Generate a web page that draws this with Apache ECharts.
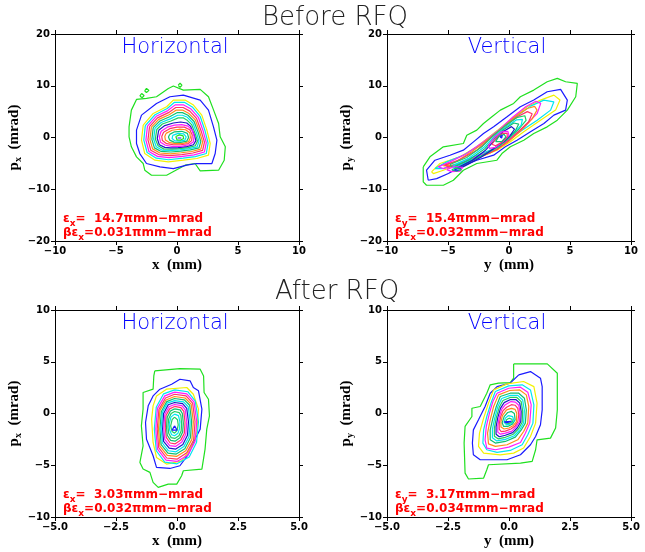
<!DOCTYPE html>
<html>
<head>
<meta charset="utf-8">
<script src="https://cdn.jsdelivr.net/npm/echarts@6/dist/echarts.min.js"></script>
<style>
  html, body { margin: 0; padding: 0; background: #fff; }
  #chart { width: 645px; height: 552px; }
</style>
</head>
<body>
<div id="chart"></div>
<script>
// tick values
const beforeXTicks = [-10, 10, 5];
const beforeYTicks = [-20, 20, 10];
const afterXTicks = [-5, 5, 2.5];
const afterYTicks = [-10, 10, 5];

const panelLabels = ["Horizontal", "Vertical", "Horizontal", "Vertical"];
const emitLabels = [["x", "14.7"], ["y", "15.4"], ["x", "3.03"], ["y", "3.17"]];
const betaEmit = ["0.031", "0.032", "0.032", "0.034"];

// contour lines, outermost first
const beforeHContours = [
  [[-3.93,2.06],[-3.74,5.29],[-3.32,7.35],[-2.5,7.55],[-1.68,7.87],[-0.71,9.48],[-0.3,9.94],[0.52,9.16],[1.9,9.29],[2.58,7.87],[3.0,5.29],[3.41,2.71],[3.54,0.13],[3.96,-1.8],[3.87,-4.39],[3.41,-6.32],[1.9,-6.45],[1.48,-5.03],[0.66,-5.35],[-0.85,-7.29],[-2.09,-7.29],[-2.64,-6.32],[-2.77,-5.03],[-3.32,-3.74],[-3.74,-1.8],[-3.93,0.13]],
  [[-2.91,4.32],[-1.68,6.58],[-0.58,7.87],[0.52,8.19],[1.9,7.23],[2.58,5.29],[2.99,2.06],[3.27,-0.52],[3.13,-3.1],[2.86,-5.03],[1.62,-5.03],[0.8,-5.35],[-0.3,-6.0],[-1.4,-5.68],[-2.5,-5.03],[-3.05,-3.1],[-3.32,-1.16],[-3.32,1.42]],
  [[-2.77,2.39],[-1.95,4.65],[-0.85,5.94],[-0.3,7.23],[0.66,7.23],[1.35,6.26],[2.03,4.32],[2.45,1.42],[2.72,-1.16],[2.58,-3.42],[1.62,-4.06],[0.52,-4.39],[-0.71,-4.71],[-1.81,-4.39],[-2.64,-3.1],[-2.91,-0.52]],
  [[-2.6,2.3],[-1.8,4.4],[-0.8,5.6],[-0.2,6.8],[0.6,6.8],[1.25,5.9],[1.9,4.1],[2.3,1.3],[2.55,-1.1],[2.4,-3.1],[1.5,-3.7],[0.5,-4.0],[-0.7,-4.3],[-1.7,-4.0],[-2.45,-2.9],[-2.72,-0.5]],
  [[-2.42,2.2],[-1.7,4.1],[-0.75,5.2],[-0.15,6.3],[0.55,6.3],[1.15,5.5],[1.75,3.9],[2.15,1.2],[2.4,-1.0],[2.25,-2.8],[1.4,-3.35],[0.45,-3.65],[-0.65,-3.9],[-1.6,-3.65],[-2.3,-2.7],[-2.55,-0.5]],
  [[-2.25,2.1],[-1.6,3.8],[-0.7,4.8],[-0.1,5.8],[0.5,5.8],[1.05,5.1],[1.6,3.7],[2.0,1.1],[2.25,-0.9],[2.1,-2.5],[1.3,-3.0],[0.4,-3.3],[-0.6,-3.5],[-1.5,-3.3],[-2.15,-2.45],[-2.38,-0.45]],
  [[-2.1,2.0],[-1.5,3.5],[-0.65,4.4],[-0.05,5.3],[0.45,5.3],[0.95,4.7],[1.5,3.4],[1.87,1.0],[2.1,-0.85],[1.95,-2.25],[1.2,-2.7],[0.35,-2.95],[-0.55,-3.15],[-1.4,-3.0],[-2.0,-2.2],[-2.22,-0.4]],
  [[-1.95,1.9],[-1.4,3.2],[-0.6,4.0],[0.0,4.8],[0.45,4.8],[0.9,4.3],[1.4,3.1],[1.75,0.9],[1.95,-0.8],[1.8,-2.0],[1.1,-2.4],[0.3,-2.65],[-0.5,-2.8],[-1.3,-2.7],[-1.85,-2.0],[-2.06,-0.35]],
  [[-1.8,1.8],[-1.3,2.9],[-0.55,3.6],[0.05,4.3],[0.45,4.3],[0.85,3.9],[1.3,2.8],[1.62,0.8],[1.8,-0.75],[1.65,-1.8],[1.0,-2.15],[0.25,-2.4],[-0.45,-2.5],[-1.2,-2.45],[-1.7,-1.8],[-1.92,-0.3]],
  [[-1.65,1.6],[-1.2,2.6],[-0.5,3.2],[0.1,3.8],[0.5,3.8],[0.8,3.4],[1.2,2.5],[1.5,0.7],[1.68,-0.7],[1.5,-1.6],[0.9,-1.95],[0.2,-2.15],[-0.4,-2.25],[-1.1,-2.2],[-1.55,-1.6],[-1.78,-0.3]],
  [[-1.5,1.4],[-1.0,2.3],[-0.3,2.8],[0.3,3.0],[0.8,2.8],[1.1,2.2],[1.4,0.6],[1.55,-0.6],[1.35,-1.4],[0.8,-1.75],[0.1,-1.95],[-0.5,-2.0],[-1.0,-1.9],[-1.45,-1.4],[-1.62,-0.2]],
  [[-1.3,1.2],[-0.8,2.0],[-0.2,2.4],[0.4,2.5],[0.9,2.2],[1.25,1.4],[1.4,0.3],[1.35,-0.8],[1.0,-1.4],[0.3,-1.7],[-0.4,-1.7],[-0.95,-1.5],[-1.35,-0.9],[-1.45,0.1]],
  [[-1.1,1.0],[-0.6,1.7],[0.0,2.0],[0.6,2.0],[1.05,1.5],[1.25,0.5],[1.2,-0.6],[0.9,-1.2],[0.3,-1.4],[-0.3,-1.4],[-0.85,-1.2],[-1.2,-0.6],[-1.25,0.2]],
  [[-0.9,0.8],[-0.4,1.4],[0.2,1.6],[0.7,1.5],[1.05,0.9],[1.1,0.0],[0.95,-0.8],[0.5,-1.15],[-0.1,-1.2],[-0.6,-1.0],[-0.95,-0.5],[-1.0,0.2]],
  [[-0.6,0.6],[-0.2,1.1],[0.4,1.2],[0.85,0.8],[0.95,0.0],[0.8,-0.7],[0.3,-0.95],[-0.25,-0.9],[-0.6,-0.5],[-0.7,0.1]],
  [[-0.35,0.4],[0.1,0.8],[0.55,0.7],[0.75,0.1],[0.65,-0.5],[0.25,-0.7],[-0.2,-0.6],[-0.4,-0.2]],
  [[-0.1,0.2],[0.2,0.5],[0.5,0.3],[0.55,-0.2],[0.3,-0.5],[0.0,-0.45],[-0.15,-0.1]],
  [[0.05,-0.1],[0.2,0.2],[0.35,-0.1],[0.2,-0.35]],
  [[-3.05,8.0],[-2.9,8.5],[-2.7,8.1],[-2.85,7.7]],
  [[-2.65,9.0],[-2.5,9.5],[-2.3,9.1],[-2.5,8.7]],
  [[0.1,10.1],[0.25,10.5],[0.4,10.1],[0.25,9.7]]
];
const beforeHColors = ["#1fe01f","#1a1aff","#f2f200","#00e6f0","#ff1aff","#ff3366","#ff8c1a","#10c070","#00e6f0","#20d060","#1a1ac0","#ff1aff","#ff3366","#ff8c1a","#10c070","#00e6f0","#1fe01f","#1a1aff","#1fe01f","#1fe01f","#1fe01f"];

const beforeVContours = [
  [[-7.03,-5.68],[-6.48,-3.74],[-5.38,-1.8],[-3.74,-1.16],[-3.46,0.45],[-2.64,1.42],[-2.09,2.71],[-1.4,4.0],[-0.71,5.29],[0.38,6.58],[0.93,7.87],[2.03,9.16],[3.13,10.77],[3.96,11.42],[4.64,10.77],[5.6,10.45],[5.47,7.87],[4.78,5.29],[3.96,3.35],[3.13,2.06],[2.03,0.77],[1.21,-0.52],[0.11,-1.8],[-0.58,-3.1],[-0.99,-4.39],[-2.64,-5.03],[-3.74,-6.32],[-4.56,-8.26],[-5.38,-9.23],[-6.76,-9.23],[-7.03,-8.58]],
  [[-6.62,-8.26],[-6.76,-6.32],[-6.07,-4.39],[-4.84,-3.42],[-3.74,-2.45],[-2.91,-0.84],[-2.09,0.77],[-1.26,2.06],[-0.16,4.0],[0.93,5.94],[2.03,7.23],[3.13,8.84],[4.23,9.29],[4.78,7.23],[4.64,5.29],[3.68,4.32],[2.86,2.71],[1.76,1.1],[0.66,-0.52],[-0.3,-1.8],[-1.26,-3.42],[-2.64,-4.39],[-4.01,-5.68],[-4.97,-6.97],[-5.93,-7.94]],
  [[-6.35,-6.65],[-5.66,-5.03],[-4.01,-3.74],[-2.64,-1.8],[-1.26,0.77],[0.11,3.35],[1.48,5.94],[2.58,7.23],[3.68,8.19],[4.18,7.23],[3.82,5.29],[2.58,3.35],[1.21,1.1],[0.11,-0.84],[-0.99,-2.45],[-2.36,-3.74],[-4.01,-5.03],[-5.38,-6.32],[-6.2,-6.97]],
  [[-6.07,-6.0],[-5.11,-4.71],[-3.74,-3.42],[-2.36,-1.48],[-0.99,1.1],[0.38,3.68],[1.76,6.06],[2.86,7.23],[3.68,6.9],[3.41,5.29],[2.31,3.35],[1.07,1.42],[-0.16,-0.52],[-1.54,-2.45],[-2.91,-3.74],[-4.29,-5.03],[-5.38,-6.0]],
  [[-5.8,-5.68],[-4.84,-4.71],[-3.46,-3.1],[-2.09,-0.84],[-0.85,1.42],[0.3,3.9],[1.4,6.0],[2.2,7.0],[2.6,6.6],[2.3,4.6],[1.2,2.0],[-0.1,-0.6],[-1.68,-2.77],[-3.05,-4.06],[-4.42,-5.35],[-5.38,-6.0]],
  [[-5.38,-5.48],[-4.29,-4.58],[-3.05,-2.77],[-1.81,-0.52],[-0.58,1.74],[0.5,4.0],[1.5,5.6],[2.1,6.0],[2.3,5.3],[1.9,3.6],[0.93,1.2],[-0.16,-1.03],[-1.54,-2.97],[-2.91,-4.26],[-4.29,-5.35]],
  [[-5.25,-5.35],[-4.01,-4.26],[-2.64,-2.45],[-1.54,-0.19],[-0.44,1.9],[0.6,3.9],[1.5,5.0],[1.9,4.6],[1.6,3.0],[0.8,1.2],[0.0,-0.5],[-0.99,-2.32],[-2.36,-3.74],[-3.74,-4.9],[-4.97,-5.68]],
  [[-4.84,-5.22],[-3.46,-3.87],[-2.22,-1.8],[-1.26,0.45],[-0.3,2.3],[0.7,3.9],[1.3,4.2],[1.4,3.3],[0.8,1.6],[0.0,-0.1],[-0.85,-1.8],[-2.09,-3.42],[-3.46,-4.58],[-4.7,-5.68]],
  [[-4.6,-5.5],[-3.3,-4.0],[-2.1,-2.0],[-1.2,0.2],[-0.3,2.0],[0.6,3.4],[1.1,3.5],[1.0,2.4],[0.4,0.9],[-0.2,-0.4],[-1.0,-1.9],[-2.2,-3.5],[-3.4,-4.7],[-4.5,-5.9]],
  [[-4.4,-5.6],[-3.2,-4.2],[-2.0,-2.2],[-1.2,-0.2],[-0.4,1.6],[0.4,2.8],[0.8,2.6],[0.5,1.2],[-0.2,-0.5],[-1.1,-2.0],[-2.3,-3.6],[-3.4,-4.9],[-4.3,-6.0]],
  [[-4.2,-5.8],[-3.0,-4.4],[-1.9,-2.4],[-1.2,-0.6],[-0.5,1.1],[0.2,2.1],[0.45,1.6],[0.1,0.4],[-0.4,-0.7],[-1.2,-2.1],[-2.3,-3.8],[-3.3,-5.1],[-4.1,-6.1]],
  [[-1.7,-1.6],[-1.2,0.0],[-0.6,1.1],[-0.1,1.2],[0.0,0.4],[-0.5,-0.8],[-1.1,-1.9],[-1.6,-2.1]],
  [[-1.4,-1.3],[-1.0,0.0],[-0.5,0.8],[-0.15,0.8],[-0.15,0.1],[-0.6,-0.9],[-1.1,-1.6]],
  [[-1.1,-0.8],[-0.8,0.3],[-0.4,0.6],[-0.25,0.1],[-0.6,-0.8]],
  [[-0.75,0.1],[-0.55,0.45],[-0.4,0.2],[-0.6,-0.1]],
  [[-5.1,-6.2],[-4.5,-5.6],[-3.8,-5.8],[-4.0,-6.5],[-4.7,-6.6]],
  [[-4.7,-6.2],[-4.3,-5.9],[-3.9,-6.2],[-4.3,-6.5]],
  [[-4.45,-6.3],[-4.3,-6.1],[-4.15,-6.3],[-4.3,-6.45]]
];
const beforeVColors = ["#1fe01f","#1a1aff","#f2f200","#00e6f0","#ff1aff","#ff8c1a","#ff3366","#20d060","#00e6f0","#10c070","#1a1ac0","#ff1aff","#ff3366","#10c070","#1a1aff","#ff1aff","#10c070","#1a1aff"];

const afterHContours = [
  [[-0.91,4.12],[0.12,4.34],[0.95,4.28],[1.09,3.63],[1.11,2.03],[1.29,1.38],[1.33,-0.23],[1.22,-1.51],[1.15,-3.44],[1.02,-5.37],[0.26,-5.53],[0.19,-6.01],[-0.01,-6.82],[-0.36,-6.82],[-0.77,-7.14],[-0.98,-6.66],[-1.11,-5.69],[-1.39,-5.37],[-1.52,-4.73],[-1.39,-3.12],[-1.46,-1.19],[-1.39,0.42],[-1.39,2.03],[-0.98,2.35],[-0.95,3.63]],
  [[-0.7,2.35],[-0.22,2.83],[0.12,3.31],[0.54,3.15],[0.67,2.51],[0.88,2.19],[1.02,0.42],[0.95,-1.51],[0.67,-2.8],[0.47,-3.92],[0.12,-5.05],[-0.29,-5.31],[-0.84,-5.21],[-0.98,-4.08],[-1.25,-2.48],[-1.29,-0.87],[-1.18,0.74],[-0.98,1.7]],
  [[-0.84,1.7],[-0.43,2.35],[0.4,2.51],[0.67,1.86],[0.88,0.42],[0.81,-1.83],[0.54,-3.44],[0.19,-4.57],[-0.43,-4.89],[-0.84,-4.24],[-0.98,-2.8],[-1.04,-0.55],[-0.98,0.74]],
  [[-0.1,2.28],[0.45,2.1],[0.75,1.2],[0.88,-0.8],[0.8,-2.8],[0.5,-4.2],[0.0,-4.86],[-0.5,-4.7],[-0.85,-3.6],[-0.93,-1.5],[-0.85,0.6],[-0.55,1.9]],
  [[-0.1,2.06],[0.4,1.9],[0.7,1.1],[0.81,-0.8],[0.74,-2.7],[0.45,-4.0],[0.0,-4.63],[-0.45,-4.5],[-0.8,-3.45],[-0.87,-1.5],[-0.8,0.5],[-0.5,1.7]],
  [[-0.1,1.86],[0.37,1.7],[0.64,1.0],[0.74,-0.8],[0.68,-2.6],[0.4,-3.8],[0.0,-4.41],[-0.42,-4.3],[-0.75,-3.3],[-0.81,-1.5],[-0.74,0.4],[-0.47,1.5]],
  [[-0.1,1.64],[0.33,1.5],[0.58,0.9],[0.67,-0.8],[0.61,-2.5],[0.36,-3.6],[-0.02,-4.15],[-0.4,-4.05],[-0.7,-3.15],[-0.76,-1.5],[-0.7,0.3],[-0.45,1.3]],
  [[-0.1,1.45],[0.3,1.32],[0.52,0.8],[0.6,-0.8],[0.55,-2.35],[0.32,-3.4],[-0.03,-3.92],[-0.37,-3.82],[-0.65,-3.0],[-0.7,-1.5],[-0.64,0.2],[-0.42,1.15]],
  [[-0.1,1.25],[0.27,1.12],[0.46,0.65],[0.54,-0.8],[0.49,-2.25],[0.28,-3.2],[-0.04,-3.7],[-0.35,-3.6],[-0.6,-2.85],[-0.65,-1.5],[-0.6,0.1],[-0.4,1.0]],
  [[-0.1,1.06],[0.23,0.95],[0.4,0.5],[0.47,-0.8],[0.43,-2.1],[0.24,-3.0],[-0.05,-3.44],[-0.32,-3.35],[-0.55,-2.7],[-0.59,-1.5],[-0.55,0.0],[-0.36,0.85]],
  [[-0.1,0.87],[0.2,0.76],[0.34,0.35],[0.4,-0.85],[0.36,-2.0],[0.2,-2.75],[-0.06,-3.18],[-0.3,-3.1],[-0.5,-2.5],[-0.54,-1.45],[-0.5,-0.1],[-0.33,0.65]],
  [[-0.1,0.68],[0.16,0.57],[0.28,0.2],[0.33,-0.9],[0.3,-1.9],[0.16,-2.55],[-0.07,-2.93],[-0.28,-2.85],[-0.44,-2.3],[-0.48,-1.4],[-0.45,-0.2],[-0.3,0.45]],
  [[-0.1,0.45],[0.13,0.35],[0.22,0.0],[0.26,-0.95],[0.23,-1.8],[0.12,-2.35],[-0.08,-2.67],[-0.26,-2.6],[-0.4,-2.1],[-0.43,-1.35],[-0.4,-0.35],[-0.27,0.25]],
  [[-0.1,0.19],[0.09,0.08],[0.16,-0.2],[0.19,-1.0],[0.17,-1.7],[0.08,-2.15],[-0.09,-2.41],[-0.24,-2.33],[-0.34,-1.9],[-0.37,-1.3],[-0.34,-0.5],[-0.24,0.0]],
  [[-0.1,-0.06],[0.06,-0.2],[0.12,-0.8],[0.1,-1.5],[0.04,-1.9],[-0.1,-2.15],[-0.22,-2.05],[-0.3,-1.6],[-0.32,-1.0],[-0.25,-0.35]],
  [[-0.1,-0.35],[0.02,-0.6],[0.05,-1.1],[0.0,-1.65],[-0.1,-1.9],[-0.2,-1.75],[-0.26,-1.2],[-0.2,-0.6]],
  [[-0.1,-1.2],[0.0,-1.6],[-0.2,-1.6]]
];
const afterHColors = ["#1fe01f","#1a1aff","#f2f200","#00e6f0","#ff1aff","#ff3366","#ff8c1a","#10c070","#00e6f0","#1a1ac0","#ff1aff","#ff3366","#10c070","#20d060","#00e6f0","#20d060","#1a1aff"];

const afterVContours = [
  [[0.19,4.79],[1.57,4.79],[1.98,3.89],[1.98,0.35],[1.91,-1.41],[1.7,-2.38],[1.15,-2.54],[1.09,-3.5],[0.95,-4.63],[0.47,-4.79],[-0.84,-4.95],[-0.91,-5.43],[-1.04,-6.24],[-1.66,-6.33],[-1.8,-5.76],[-1.84,-2.86],[-1.8,-1.25],[-1.52,-0.29],[-1.52,0.51],[-1.18,0.68],[-0.91,1.96],[-0.77,2.77],[-0.43,2.93],[0.05,2.99],[0.19,3.41]],
  [[0.4,3.73],[0.88,4.05],[1.29,3.41],[1.36,2.6],[1.36,0.35],[1.29,-1.09],[1.09,-2.22],[0.88,-3.02],[0.47,-3.99],[-0.08,-4.47],[-1.18,-4.47],[-1.46,-3.99],[-1.5,-2.86],[-1.46,-1.58],[-1.25,-0.61],[-0.98,0.68],[-0.77,1.96],[-0.49,2.6],[0.05,2.93]],
  [[-0.63,2.28],[-0.08,2.86],[0.6,3.09],[1.02,2.6],[1.15,1.0],[1.09,-0.93],[0.88,-2.22],[0.6,-3.34],[0.19,-3.83],[-0.36,-3.99],[-1.04,-3.83],[-1.25,-3.18],[-1.21,-1.9],[-1.04,-0.45],[-0.84,1.0]],
  [[-0.56,2.12],[-0.01,2.67],[0.54,2.77],[0.88,2.28],[1.02,0.84],[0.98,-0.93],[0.77,-2.06],[0.54,-3.02],[0.05,-3.57],[-0.49,-3.76],[-0.91,-3.5],[-1.07,-2.86],[-1.04,-1.58],[-0.91,-0.29],[-0.74,1.0]],
  [[-0.49,1.96],[-0.01,2.44],[0.47,2.54],[0.77,2.06],[0.91,0.84],[0.85,-0.93],[0.67,-1.9],[0.47,-2.8],[-0.01,-3.25],[-0.56,-3.5],[-0.91,-3.34],[-0.98,-2.54],[-0.93,-1.25],[-0.8,0.03],[-0.66,1.16]],
  [[-0.43,1.8],[0.03,2.22],[0.44,2.28],[0.71,1.8],[0.81,0.68],[0.77,-0.93],[0.6,-1.74],[0.36,-2.54],[-0.08,-3.02],[-0.56,-3.18],[-0.84,-2.93],[-0.88,-1.9],[-0.77,-0.61],[-0.63,0.68]],
  [[-0.36,1.64],[0.05,1.96],[0.4,1.96],[0.63,1.48],[0.71,0.35],[0.67,-0.93],[0.49,-1.64],[0.26,-2.28],[-0.15,-2.7],[-0.56,-2.86],[-0.77,-2.54],[-0.77,-1.58],[-0.66,-0.45],[-0.52,0.68]],
  [[-0.3,1.45],[0.05,1.75],[0.36,1.75],[0.56,1.3],[0.63,0.3],[0.6,-0.9],[0.45,-1.55],[0.22,-2.15],[-0.15,-2.5],[-0.5,-2.65],[-0.68,-2.35],[-0.68,-1.5],[-0.58,-0.4],[-0.46,0.65]],
  [[-0.25,1.25],[0.05,1.55],[0.32,1.55],[0.5,1.15],[0.56,0.25],[0.54,-0.85],[0.4,-1.45],[0.18,-2.0],[-0.15,-2.3],[-0.45,-2.45],[-0.6,-2.2],[-0.6,-1.4],[-0.52,-0.4],[-0.4,0.6]],
  [[-0.2,1.05],[0.06,1.35],[0.28,1.35],[0.44,1.0],[0.5,0.2],[0.48,-0.8],[0.35,-1.35],[0.15,-1.85],[-0.15,-2.1],[-0.4,-2.25],[-0.53,-2.0],[-0.53,-1.3],[-0.46,-0.4],[-0.35,0.5]],
  [[-0.15,0.85],[0.08,1.15],[0.26,1.1],[0.4,0.8],[0.45,0.1],[0.43,-0.8],[0.3,-1.25],[0.12,-1.7],[-0.15,-1.9],[-0.35,-2.0],[-0.46,-1.8],[-0.46,-1.2],[-0.4,-0.35],[-0.3,0.4]],
  [[-0.1,0.6],[0.1,0.85],[0.25,0.8],[0.36,0.5],[0.4,-0.1],[0.36,-0.8],[0.25,-1.2],[0.08,-1.5],[-0.15,-1.7],[-0.32,-1.75],[-0.4,-1.5],[-0.4,-1.0],[-0.34,-0.3],[-0.25,0.25]],
  [[-0.1,0.35],[0.1,0.5],[0.25,0.4],[0.32,0.0],[0.3,-0.8],[0.18,-1.15],[0.0,-1.4],[-0.2,-1.5],[-0.33,-1.3],[-0.33,-0.8],[-0.27,-0.2]],
  [[-0.05,0.1],[0.1,0.2],[0.22,0.0],[0.25,-0.6],[0.15,-1.0],[-0.05,-1.25],[-0.22,-1.25],[-0.28,-0.9],[-0.2,-0.3]],
  [[-0.02,-0.2],[0.15,-0.3],[0.2,-0.7],[0.08,-1.0],[-0.1,-1.1],[-0.2,-0.85],[-0.15,-0.45]],
  [[0.0,-0.45],[0.12,-0.55],[0.14,-0.8],[0.0,-0.95],[-0.14,-0.9],[-0.1,-0.6]],
  [[-0.2,-0.8],[0.1,-0.75],[0.15,-0.85],[-0.1,-0.9]]
];
const afterVColors = ["#1fe01f","#1a1aff","#f2f200","#00e6f0","#ff1aff","#ff8c1a","#10c070","#00e6f0","#20d060","#1a1ac0","#ff1aff","#ff3366","#ff8c1a","#10c070","#00e6f0","#20d060","#1a1aff"];

const panels = [
  { contours: beforeHContours, colors: beforeHColors, xt: beforeXTicks, yt: beforeYTicks, xn: "x", yn: "x" },
  { contours: beforeVContours, colors: beforeVColors, xt: beforeXTicks, yt: beforeYTicks, xn: "y", yn: "y" },
  { contours: afterHContours, colors: afterHColors, xt: afterXTicks, yt: afterYTicks, xn: "x", yn: "x" },
  { contours: afterVContours, colors: afterVColors, xt: afterXTicks, yt: afterYTicks, xn: "y", yn: "y" }
];

const boxes = [
  { left: 55, top: 34 }, { left: 387, top: 34 },
  { left: 55, top: 310 }, { left: 387, top: 310 }
];
const boxW = 244, boxH = 207;

const chart = echarts.init(document.getElementById("chart"));

function fmt(v, dec) {
  const s = Math.abs(v).toFixed(dec);
  return (v < 0 ? "\u2212" : "") + s;
}

const tickFont = { fontFamily: "DejaVu Sans", fontWeight: "bold", fontSize: 10, color: "#000" };
const nameFont = { fontFamily: "Liberation Serif", fontWeight: "bold", fontSize: 15, color: "#000" };

const grid = [], xAxis = [], yAxis = [], series = [], graphic = [];

panels.forEach((p, i) => {
  const b = boxes[i];
  grid.push({ left: b.left, top: b.top, width: boxW, height: boxH });
  const xDec = p.xt[2] % 1 ? 1 : 0;
  const common = {
    type: "value",
    gridIndex: i,
    axisLine: { show: true, onZero: false, lineStyle: { color: "#000", width: 1 } },
    axisTick: { show: true, inside: false, length: 4, lineStyle: { color: "#000" } },
    splitLine: { show: false }
  };
  xAxis.push(Object.assign({}, common, {
    position: "bottom", min: p.xt[0], max: p.xt[1], interval: p.xt[2],
    axisLabel: Object.assign({ margin: 5, formatter: v => fmt(v, xDec) }, tickFont),
    name: p.xn + "  (mm)", nameLocation: "middle", nameGap: 17, nameTextStyle: nameFont
  }));
  xAxis.push(Object.assign({}, common, {
    position: "top", min: p.xt[0], max: p.xt[1], interval: p.xt[2],
    axisLabel: { show: false }
  }));
  yAxis.push(Object.assign({}, common, {
    position: "left", min: p.yt[0], max: p.yt[1], interval: p.yt[2],
    axisLabel: Object.assign({ margin: 5, formatter: v => fmt(v, 0) }, tickFont),
    name: "{m|p}{s|" + p.yn + "}{m|  (mrad)}", nameLocation: "middle", nameGap: 23,
    nameTextStyle: {
      rich: {
        m: { fontFamily: "Liberation Serif", fontWeight: "bold", fontSize: 15, color: "#000", lineHeight: 20, verticalAlign: "middle" },
        s: { fontFamily: "Liberation Serif", fontWeight: "bold", fontSize: 10, color: "#000", lineHeight: 20, verticalAlign: "bottom" }
      }
    }
  }));
  yAxis.push(Object.assign({}, common, {
    position: "right", min: p.yt[0], max: p.yt[1], interval: p.yt[2],
    axisLabel: { show: false }
  }));

  p.contours.forEach((c, k) => {
    series.push({
      type: "line",
      xAxisIndex: 2 * i,
      yAxisIndex: 2 * i,
      data: c.concat([c[0]]),
      symbol: "none",
      smooth: false,
      silent: true,
      clip: true,
      lineStyle: { color: p.colors[k], width: 1.2 }
    });
  });

  // panel heading
  graphic.push({
    type: "text",
    style: {
      text: panelLabels[i], x: b.left + boxW / 2 - 2, y: b.top + 14,
      fontFamily: "DejaVu Sans", fontWeight: 200, fontSize: 21,
      fill: "#0000ff", textAlign: "center", textVerticalAlign: "middle"
    }
  });

  // emittance annotation
  const red = { fontFamily: "DejaVu Sans", fontWeight: "bold", fontSize: 12, fill: "#ff0000", lineHeight: 18, verticalAlign: "middle" };
  const sub = { fontFamily: "DejaVu Sans", fontWeight: "bold", fontSize: 9, fill: "#ff0000", lineHeight: 18, verticalAlign: "bottom" };
  graphic.push({
    type: "text",
    style: {
      text: "{e|\u03b5}{s|" + emitLabels[i][0] + "}{e|=  " + emitLabels[i][1] + "\u03c0mm\u2212mrad}",
      x: b.left + 8, y: b.top + 185, textVerticalAlign: "middle",
      rich: { e: red, s: sub }
    }
  });
  graphic.push({
    type: "text",
    style: {
      text: "{e|\u03b2\u03b5}{s|x}{e|=" + betaEmit[i] + "\u03c0mm\u2212mrad}",
      x: b.left + 8, y: b.top + 199, textVerticalAlign: "middle",
      rich: { e: red, s: sub }
    }
  });
});

// section titles
graphic.push({
  type: "text",
  style: {
    text: "Before RFQ", x: 335, y: 18,
    fontFamily: "DejaVu Sans", fontWeight: 200, fontSize: 26,
    fill: "#222", textAlign: "center", textVerticalAlign: "middle"
  }
});
graphic.push({
  type: "text",
  style: {
    text: "After RFQ", x: 337, y: 292,
    fontFamily: "DejaVu Sans", fontWeight: 200, fontSize: 26,
    fill: "#222", textAlign: "center", textVerticalAlign: "middle"
  }
});

chart.setOption({
  backgroundColor: "#fff",
  animation: false,
  grid: grid,
  xAxis: xAxis,
  yAxis: yAxis,
  series: series,
  graphic: graphic
});
</script>
</body>
</html>
